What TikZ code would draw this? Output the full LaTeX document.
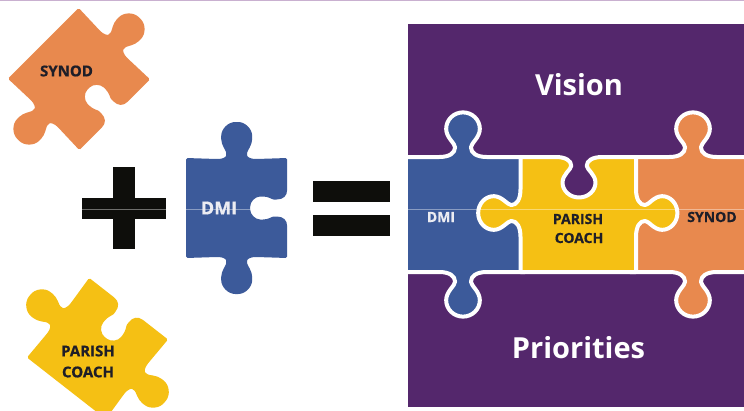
\documentclass[tikz,border=0pt]{standalone}
\usepackage{fontspec}
\setmainfont[BoldFeatures={FakeBold=0.6}]{Open Sans}
\newfontfamily\headfont{Open Sans}
\definecolor{pblue}{HTML}{3C5A9A}
\definecolor{pyellow}{HTML}{F5C014}
\definecolor{porange}{HTML}{E8894E}
\definecolor{ppurple}{HTML}{54276C}
\definecolor{pblack}{HTML}{0E0E0B}
\definecolor{pdark}{HTML}{1E1E28}
\definecolor{pwhite}{HTML}{ECECF2}
\definecolor{pstrip}{HTML}{C9B0D0}
% panel tab, in local coordinates, traversed from (-24,0) to (24,0), bulging "up"
\newcommand\tb[1]{-- ([#1]-24,0) .. controls ([#1]-14,0) and ([#1]-8,-4) .. ([#1]-8,-10)
 .. controls ([#1]-8,-14) and ([#1]-17,-20) .. ([#1]-17,-29)
 .. controls ([#1]-17,-38.4) and ([#1]-9.4,-46) .. ([#1]0,-46)
 .. controls ([#1]9.4,-46) and ([#1]17,-38.4) .. ([#1]17,-29)
 .. controls ([#1]17,-20) and ([#1]8,-14) .. ([#1]8,-10)
 .. controls ([#1]8,-4) and ([#1]14,0) .. ([#1]24,0)}
% short round tab of the loose pieces
\newcommand\tbs[1]{-- ([#1]-20,0) .. controls ([#1]-14,0) and ([#1]-10.5,-2) .. ([#1]-10.5,-5)
 .. controls ([#1]-10.5,-8) and ([#1]-15.5,-14) .. ([#1]-15.5,-21.5)
 .. controls ([#1]-15.5,-30) and ([#1]-8.6,-37) .. ([#1]0,-37)
 .. controls ([#1]8.6,-37) and ([#1]15.5,-30) .. ([#1]15.5,-21.5)
 .. controls ([#1]15.5,-14) and ([#1]10.5,-8) .. ([#1]10.5,-5)
 .. controls ([#1]10.5,-2) and ([#1]14,0) .. ([#1]20,0)}
% slot of the loose pieces, bulging "up" into the body
\newcommand\slt[1]{-- ([#1]-20,0) .. controls ([#1]-12,0) and ([#1]-8.5,-4) .. ([#1]-8.5,-12)
 .. controls ([#1]-8.5,-15) and ([#1]-11.5,-19) .. ([#1]-11.5,-25.5)
 .. controls ([#1]-11.5,-32) and ([#1]-6.4,-37) .. ([#1]0,-37)
 .. controls ([#1]6.4,-37) and ([#1]11.5,-32) .. ([#1]11.5,-25.5)
 .. controls ([#1]11.5,-19) and ([#1]8.5,-15) .. ([#1]8.5,-12)
 .. controls ([#1]8.5,-4) and ([#1]12,0) .. ([#1]20,0)}
% the loose piece, centred on the origin: tabs on top and bottom, slot on the right
\newcommand\loosepiece{(-50.5,-50) \tbs{shift={(0,-49)}} -- (50.5,-50)
 \slt{shift={(50.5,0)},rotate=-90,yscale=-1} -- (50.5,50)
 \tbs{shift={(0,49)},rotate=180} -- (-50.5,50) -- cycle}
\tikzset{
  pz/.style={draw=white,line width=4pt,line join=round},
  lab/.style={font=\fontsize{#1}{#1}\selectfont\bfseries,inner sep=0pt,align=center},
  lab/.default=15,
  head/.style={font=\fontsize{29}{29}\selectfont\headfont\bfseries,inner sep=0pt,text=white},
  onpanel/.style={pz,fill=#1},
  corner/.style={rounded corners=1.5pt}
}
\begin{document}
\begin{tikzpicture}[x=1pt,y=-1pt]
\useasboundingbox (0,0) rectangle (744,410);
\clip (0,0) rectangle (744,410);
\fill[white] (0,0) rectangle (744,410);
\fill[pstrip] (0,0) rectangle (744,1.2);
% loose pieces
\begin{scope}[shift={(79,79)},rotate=-45]
  \fill[porange,corner] \loosepiece;
\end{scope}
\begin{scope}[shift={(97.5,348.5)},rotate=52]
  \fill[pyellow,corner] \loosepiece;
\end{scope}
\begin{scope}[shift={(236.7,208)}]
  \fill[pblue,corner] \loosepiece;
\end{scope}
% plus and equals
\fill[pblack] (82,198) rectangle (166,219);
\fill[pblack] (113,167) rectangle (135,249);
\fill[pblack] (313,181) rectangle (390,202);
\fill[pblack] (313,215) rectangle (390,236);
% panel
\fill[ppurple] (408,24) rectangle (744,407);
\begin{scope}
  \clip (408,24) rectangle (744,407);
  \path[onpanel=pblue] (400,157) \tb{shift={(463,157)},xscale=.99,yscale=.97} -- (525,157) -- (525,272)
     \tb{shift={(463,272)},rotate=180,xscale=.99,yscale=.97} -- (400,272) -- cycle;
  \path[onpanel=porange] (630,157) \tb{shift={(693,157)},xscale=.99,yscale=.97} -- (755,157) -- (755,272)
     \tb{shift={(693,272)},rotate=180,xscale=.99,yscale=.97} -- (630,272) -- cycle;
  \path[onpanel=pyellow] (520.5,157) \tb{shift={(579,157)},yscale=-.88,xscale=.97} -- (636,157)
     \tb{shift={(636,213)},rotate=-90,yscale=.9,xscale=.99} -- (636,272) -- (520.5,272)
     \tb{shift={(520.5,213)},rotate=90,yscale=.92,xscale=.99} -- cycle;
\end{scope}
% faint scan line
\draw[white,opacity=.4,line width=.5pt] (0,209) -- (744,209);
% labels
\node[lab,text=pdark] (synodA) at (66.5,71) {SYNOD};
\node[lab,text=pdark] (parishA) at (88,351) {PARISH};
\node[lab,text=pdark] (coachA) at (88,372) {COACH};
\node[lab=18,text=pwhite] (dmiA) at (219,208) {DMI};
\node[head] (vision) at (579,85) {Vision};
\node[head] (priorities) at (578.5,348) {Priorities};
\node[lab=14,text=pwhite] (dmiB) at (441,217) {DMI};
\node[lab=14,text=pdark] (parishB) at (578,219) {PARISH};
\node[lab=14,text=pdark] (coachB) at (579,238) {COACH};
\node[lab=14,text=pdark] (synodB) at (712,217) {SYNOD};
\end{tikzpicture}
\end{document}
